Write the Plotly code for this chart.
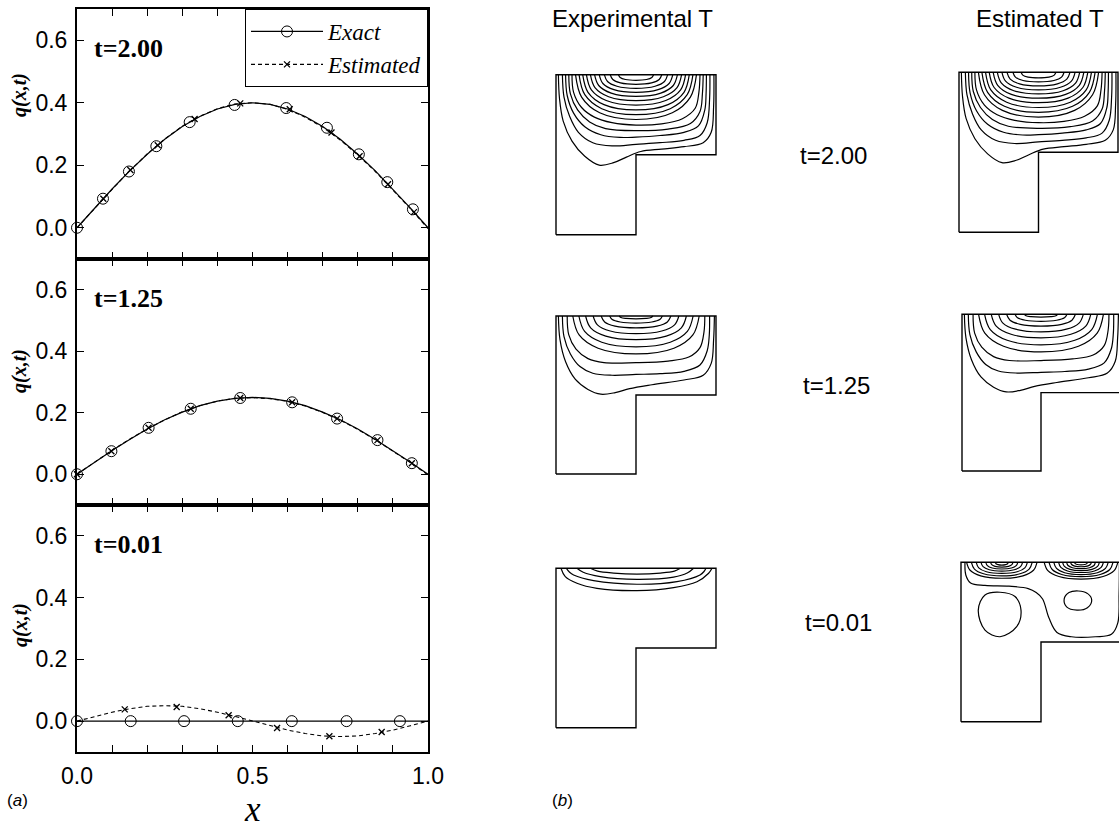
import plotly.graph_objects as go

W, H = 1119, 830

# ---------------- data: panel (a) ----------------
x_grid = [0, .05, .1, .15, .2, .25, .3, .35, .4, .45, .5, .55, .6, .65, .7, .75, .8, .85, .9, .95, 1.0]

q200_exact_line = [0, .063, .124, .182, .235, .283, .324, .356, .380, .395, .400, .395, .380, .356, .324, .283, .235, .182, .124, .063, 0]
q200_est_line = [0, .062, .123, .182, .236, .284, .325, .357, .381, .396, .400, .395, .379, .354, .322, .281, .233, .180, .122, .061, -.003]
q200_exact_mx = [0, .074, .148, .226, .321, .449, .596, .712, .803, .884, .957]
q200_exact_my = [0, .093, .180, .261, .338, .393, .383, .320, .235, .146, .059]
q200_est_mx = [.075, .152, .23, .335, .465, .606, .725, .805, .886, .96]
q200_est_my = [.093, .185, .264, .348, .398, .379, .305, .229, .139, .050]

q125_exact_line = [0, .039, .077, .113, .147, .177, .202, .223, .238, .247, .250, .247, .238, .223, .202, .177, .147, .113, .077, .039, 0]
q125_est_line = [0, .039, .078, .114, .147, .177, .203, .223, .238, .247, .249, .246, .237, .222, .201, .176, .146, .112, .076, .038, -.002]
q125_exact_mx = [0, .098, .204, .324, .465, .613, .741, .856, .954]
q125_exact_my = [0, .075, .151, .213, .248, .234, .181, .111, .036]
q125_est_mx = [0, .098, .204, .324, .465, .613, .741, .856, .954]
q125_est_my = [0, .075, .151, .213, .248, .234, .181, .111, .036]

q001_exact_line = [0] * 21
q001_est_line = [0, .015, .029, .040, .048, .050, .048, .040, .029, .015, 0, -.015, -.029, -.040, -.048, -.050, -.048, -.040, -.029, -.015, 0]
q001_exact_mx = [0, .153, .305, .458, .612, .768, .920]
q001_exact_my = [0, 0, 0, 0, 0, 0, 0]
q001_est_mx = [.136, .284, .432, .570, .719, .868]
q001_est_my = [.038, .046, .019, -.022, -.049, -.035]

y_tickvals = [0, 0.2, 0.4, 0.6]
y_ticktext = ["0.0", "0.2", "0.4", "0.6"]
x_tickvals = [0, .1, .2, .3, .4, .5, .6, .7, .8, .9, 1.0]
x_ticktext = ["0.0", "", "", "", "", "0.5", "", "", "", "", "1.0"]
time_labels = ["t=2.00", "t=1.25", "t=0.01"]

# ---------------- data: panel (b) (isotherms) ----------------
l_shape_x = [0, .5, .5, 1, 1, 0, 0]
l_shape_y = [0, 0, .5, .5, 1, 1, 0]

iso_t200 = [
    ([.015, .022, .045, .10, .18, .27, .36, .44, .53, .66, .80, .92, .97, .985, .987],
     [1.0, .85, .71, .585, .49, .435, .45, .485, .52, .535, .55, .575, .64, .80, 1.0]),
    ([.04, .05, .085, .14, .23, .35, .5, .65, .8, .9, .945, .96, .962],
     [1.0, .86, .74, .64, .575, .555, .565, .575, .59, .62, .70, .85, 1.0]),
    ([.06, .07, .11, .18, .28, .4, .5, .65, .8, .89, .93, .938, .94],
     [1.0, .87, .76, .675, .625, .608, .61, .62, .64, .68, .78, .88, 1.0]),
    ([.08, .09, .135, .21, .31, .5, .7, .84, .9, .915, .92],
     [1.0, .88, .78, .705, .663, .65, .66, .695, .77, .88, 1.0]),
    ([.10, .11, .16, .24, .35, .5, .66, .79, .87, .893, .9],
     [1.0, .89, .795, .735, .70, .685, .693, .725, .79, .89, 1.0]),
    ([.122, .16, .273, .5, .727, .84, .878], [1, .86, .762, .72, .762, .86, 1]),
    ([.144, .18, .286, .5, .714, .82, .856], [1, .875, .7875, .75, .7875, .875, 1]),
    ([.167, .2, .30, .5, .70, .80, .833], [1, .89, .813, .78, .813, .89, 1]),
    ([.19, .221, .314, .5, .686, .779, .81], [1, .905, .8385, .81, .8385, .905, 1]),
    ([.215, .2435, .329, .5, .671, .7565, .785], [1, .919, .862, .838, .862, .919, 1]),
    ([.241, .267, .345, .5, .655, .733, .759], [1, .9325, .885, .865, .885, .9325, 1]),
    ([.27, .293, .362, .5, .638, .707, .73], [1, .945, .9065, .89, .9065, .945, 1]),
    ([.302, .322, .381, .5, .619, .678, .698], [1, .9575, .928, .915, .928, .9575, 1]),
    ([.339, .355, .403, .5, .597, .645, .661], [1, .97, .949, .94, .949, .97, 1]),
    ([.39, .401, .434, .5, .566, .599, .61], [1, .9825, .970, .965, .970, .9825, 1]),
]

iso_t125 = [
    ([.015, .025, .06, .12, .2, .28, .37, .46, .6, .8, .92, .97, .985, .99],
     [1.0, .85, .71, .60, .535, .505, .515, .54, .565, .595, .625, .70, .85, 1.0]),
    ([.04, .05, .09, .15, .23, .35, .5, .65, .8, .9, .945, .958, .96],
     [1.0, .87, .76, .68, .638, .625, .63, .635, .65, .69, .78, .88, 1.0]),
    ([.07, .08, .125, .2, .3, .5, .7, .83, .9, .925, .93],
     [1.0, .88, .79, .73, .705, .705, .715, .74, .80, .90, 1.0]),
    ([.105, .1445, .263, .5, .737, .8555, .895], [1, .88, .796, .76, .796, .88, 1]),
    ([.143, .179, .286, .5, .714, .821, .857], [1, .9025, .834, .805, .834, .9025, 1]),
    ([.185, .2165, .311, .5, .689, .7835, .815], [1, .925, .8725, .85, .8725, .925, 1]),
    ([.232, .259, .339, .5, .661, .741, .768], [1, .944, .905, .888, .905, .944, 1]),
    ([.282, .304, .369, .5, .631, .696, .718], [1, .9625, .936, .925, .936, .9625, 1]),
    ([.335, .3515, .401, .5, .599, .6485, .665], [1, .9775, .962, .955, .962, .9775, 1]),
    ([.395, .4055, .437, .5, .563, .5945, .605], [1, .991, .985, .982, .985, .991, 1]),
]

iso_t001_exp = [
    ([.031, .058, .131, .256, .506, .735, .881, .954, .975], [1, .948, .906, .874, .86, .879, .916, .969, 1]),
    ([.065, .085, .11, .235, .506, .756, .9, .925, .9375], [1, .975, .958, .923, .90, .916, .958, .98, 1]),
    ([.131, .17, .277, .506, .735, .82, .86], [1, .975, .948, .931, .945, .97, 1]),
    ([.215, .26, .36, .506, .652, .74, .777], [1, .982, .97, .964, .97, .982, 1]),
]

iso_t001_est = [
    # large outer isotherm
    ([.025, .03, .06, .15, .3, .42, .47, .51, .55, .6, .69, .84, .94, .98, .988, .99],
     [1.0, .92, .87, .855, .85, .835, .81, .77, .65, .56, .533, .533, .548, .62, .80, 1.0]),
    # closed loops
    ([.244, .3375, .375, .348, .244, .15, .108, .15, .244], [.812, .785, .70, .596, .533, .575, .70, .795, .812]),
    ([.733, .79, .817, .79, .725, .66, .645, .675, .733], [.82, .805, .764, .715, .70, .72, .77, .81, .82]),
    # left hot spot
    ([.035, .057, .123, .255, .387, .453, .475], [1, .95, .915, .90, .915, .95, 1]),
    ([.065, .084, .141, .255, .369, .426, .445], [1, .9575, .928, .915, .928, .9575, 1]),
    ([.095, .111, .159, .255, .351, .399, .415], [1, .965, .9405, .93, .9405, .965, 1]),
    ([.125, .138, .177, .255, .333, .372, .385], [1, .9725, .953, .945, .953, .9725, 1]),
    ([.155, .165, .195, .255, .315, .345, .355], [1, .979, .964, .958, .964, .979, 1]),
    ([.185, .192, .213, .255, .297, .318, .325], [1, .985, .9745, .97, .9745, .985, 1]),
    ([.215, .219, .231, .255, .279, .291, .295], [1, .991, .985, .982, .985, .991, 1]),
    # right hot spot
    ([.52, .543, .612, .75, .888, .957, .98], [1, .9475, .911, .895, .911, .9475, 1]),
    ([.55, .57, .63, .75, .87, .93, .95], [1, .955, .9235, .91, .9235, .955, 1]),
    ([.58, .597, .648, .75, .852, .903, .92], [1, .9615, .9345, .923, .9345, .9615, 1]),
    ([.61, .624, .666, .75, .834, .876, .89], [1, .968, .9456, .936, .9456, .968, 1]),
    ([.635, .6465, .681, .75, .819, .8535, .865], [1, .974, .9558, .948, .9558, .974, 1]),
    ([.66, .669, .696, .75, .804, .831, .84], [1, .98, .966, .96, .966, .98, 1]),
    ([.685, .6915, .711, .75, .789, .8085, .815], [1, .986, .9762, .972, .9762, .986, 1]),
    ([.71, .714, .726, .75, .774, .786, .79], [1, .992, .9864, .984, .9864, .992, 1]),
]

# ---------------- layout helpers (pixel boxes -> paper fractions) ----------------
def px_x(px):
    return px / W

def px_y(py):
    return 1 - py / H

SANS = "Liberation Sans, Arial, sans-serif"
SERIF = "Liberation Serif, Times New Roman, serif"

fig = go.Figure()
layout = dict(width=W, height=H, margin=dict(l=0, r=0, t=0, b=0, autoexpand=False),
              paper_bgcolor="white", plot_bgcolor="white", showlegend=True, template="none")

# ---- panel (a): three stacked plots ----
left_px = (77, 428)
rows_px = [(9, 259), (259, 505), (505, 752)]
series = [
    (q200_exact_line, q200_est_line, q200_exact_mx, q200_exact_my, q200_est_mx, q200_est_my),
    (q125_exact_line, q125_est_line, q125_exact_mx, q125_exact_my, q125_est_mx, q125_est_my),
    (q001_exact_line, q001_est_line, q001_exact_mx, q001_exact_my, q001_est_mx, q001_est_my),
]
annotations = []
for i, (top, bot) in enumerate(rows_px):
    n = i + 1
    xa = "x" if n == 1 else f"x{n}"
    ya = "y" if n == 1 else f"y{n}"
    ex_l, es_l, ex_mx, ex_my, es_mx, es_my = series[i]
    fig.add_trace(go.Scatter(x=x_grid, y=ex_l, mode="lines", line=dict(color="black", width=1.2),
                             xaxis=xa, yaxis=ya, showlegend=False, hoverinfo="skip"))
    fig.add_trace(go.Scatter(x=x_grid, y=es_l, mode="lines", line=dict(color="black", width=1.1, dash="4px,3px"),
                             xaxis=xa, yaxis=ya, showlegend=False, hoverinfo="skip"))
    fig.add_trace(go.Scatter(x=ex_mx, y=ex_my, mode="markers",
                             marker=dict(symbol="circle-open", size=11, color="black", line=dict(width=1)),
                             xaxis=xa, yaxis=ya, showlegend=False, hoverinfo="skip", cliponaxis=False))
    fig.add_trace(go.Scatter(x=es_mx, y=es_my, mode="markers",
                             marker=dict(symbol="x-thin", size=6, color="black", line=dict(width=1.3, color="black")),
                             xaxis=xa, yaxis=ya, showlegend=False, hoverinfo="skip", cliponaxis=False))
    last = (n == 3)
    layout["xaxis" if n == 1 else f"xaxis{n}"] = dict(
        domain=[px_x(left_px[0]), px_x(left_px[1])], range=[0, 1], anchor=ya, automargin=False,
        tickmode="array", tickvals=x_tickvals, ticktext=x_ticktext if last else [""] * 11,
        showticklabels=last, ticks="inside", ticklen=7, tickwidth=1, tickcolor="black",
        showline=True, linecolor="black", linewidth=2, mirror="allticks", showgrid=False, zeroline=False,
        tickfont=dict(family=SANS, size=23, color="black"), ticklabelstandoff=2)
    layout["yaxis" if n == 1 else f"yaxis{n}"] = dict(
        domain=[px_y(bot), px_y(top)], range=[-0.1, 0.7], anchor=xa, automargin=False,
        tickmode="array", tickvals=y_tickvals, ticktext=y_ticktext,
        ticks="inside", ticklen=7, tickwidth=1, tickcolor="black",
        showline=True, linecolor="black", linewidth=2, mirror="allticks", showgrid=False, zeroline=False,
        tickfont=dict(family=SANS, size=23, color="black"), ticklabelstandoff=3)

# legend entries
fig.add_trace(go.Scatter(x=[None], y=[None], mode="lines+markers", name="Exact",
                         line=dict(color="black", width=1.2),
                         marker=dict(symbol="circle-open", size=11, color="black", line=dict(width=1))))
fig.add_trace(go.Scatter(x=[None], y=[None], mode="lines+markers", name="Estimated",
                         line=dict(color="black", width=1.1, dash="4px,3px"),
                         marker=dict(symbol="x-thin", size=6, color="black", line=dict(width=1.3, color="black"))))

# ---- panel (b): isotherm maps ----
panel_boxes = [
    (556, 716, 74.7, 234.7, iso_t200),
    (556, 716, 316, 474, iso_t125),
    (556, 716, 568.3, 727.7, iso_t001_exp),
    (959, 1118, 72.3, 232.3, iso_t200),
    (962, 1120, 314.3, 471, iso_t125),
    (961, 1121, 562.3, 721.7, iso_t001_est),
]
pad = 0.03
for j, (x0, x1, y0, y1, isos) in enumerate(panel_boxes):
    n = 4 + j
    xa, ya = f"x{n}", f"y{n}"
    w, h = x1 - x0, y1 - y0
    dx0, dx1 = max(0, x0 - pad * w), min(W, x1 + pad * w)
    dy0, dy1 = y0 - pad * h, y1 + pad * h
    layout[f"xaxis{n}"] = dict(domain=[px_x(dx0), px_x(dx1)], range=[(dx0 - x0) / w, (dx1 - x0) / w],
                               anchor=ya, visible=False, fixedrange=True, automargin=False)
    layout[f"yaxis{n}"] = dict(domain=[px_y(dy1), px_y(dy0)], range=[(y1 - dy1) / h, (y1 - dy0) / h],
                               anchor=xa, visible=False, fixedrange=True, automargin=False)
    for xs, ys in isos:
        fig.add_trace(go.Scatter(x=xs, y=ys, mode="lines",
                                 line=dict(color="black", width=1.2, shape="spline", smoothing=1.0),
                                 xaxis=xa, yaxis=ya, showlegend=False, hoverinfo="skip"))
    fig.add_trace(go.Scatter(x=l_shape_x, y=l_shape_y, mode="lines", line=dict(color="black", width=1.4),
                             xaxis=xa, yaxis=ya, showlegend=False, hoverinfo="skip"))

# ---- text ----
def ann(text, px, py, size, family, **kw):
    d = dict(text=text, x=px_x(px), y=px_y(py), xref="paper", yref="paper", showarrow=False,
             font=dict(family=family, size=size, color="black"))
    d.update(kw)
    annotations.append(d)

for i, (top, bot) in enumerate(rows_px):
    ann("<b>" + time_labels[i] + "</b>", 92, top + 39, 26, SERIF, xanchor="left", yanchor="middle")
for yc in [95, 371, 625]:
    ann("<b><i>q(x,t)</i></b>", 20, yc, 20, SERIF, textangle=-90, xanchor="center", yanchor="middle")
ann("<i>x</i>", 252, 830, 35, SERIF, xanchor="center", yanchor="bottom", borderpad=0)
ann("(<i>a</i>)", 17, 800, 17, SANS, xanchor="center", yanchor="middle")
ann("(<i>b</i>)", 562, 800, 17, SANS, xanchor="center", yanchor="middle")
ann("Experimental T", 632, 18, 24, SANS, xanchor="center", yanchor="middle")
ann("Estimated T", 1040, 18, 24, SANS, xanchor="center", yanchor="middle")
for lbl, px, py in zip(time_labels, [833, 836, 838], [155, 385, 622]):
    ann(lbl, px, py, 24, SANS, xanchor="center", yanchor="middle")

layout["annotations"] = annotations
layout["legend"] = dict(x=px_x(428), xanchor="right", y=px_y(9), yanchor="top",
                        bordercolor="black", borderwidth=1, bgcolor="white",
                        font=dict(family=SERIF, size=23, color="black", style="italic"),
                        itemwidth=72, tracegroupgap=0)
fig.update_layout(**layout)
fig.write_html("out.html")
